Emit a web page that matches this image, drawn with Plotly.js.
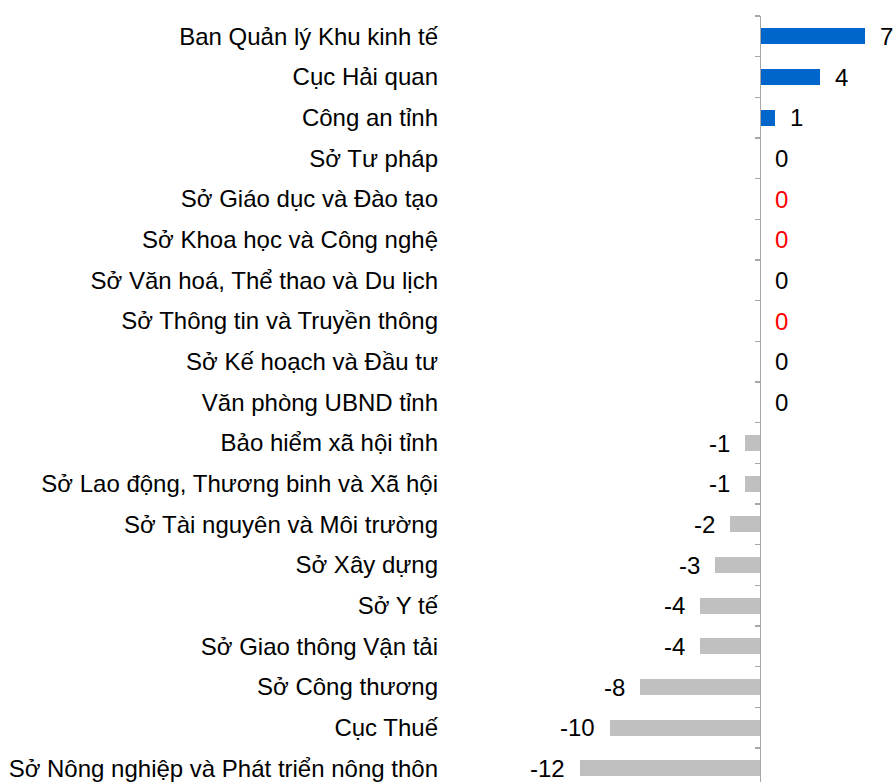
<!DOCTYPE html>
<html>
<head>
<meta charset="utf-8">
<script src="https://cdn.plot.ly/plotly-3.0.1.min.js"></script>
<style>html,body{margin:0;padding:0;background:#fff;}#chart{width:893px;height:782px;}</style>
</head>
<body>
<div id="chart"></div>
<script>
const categories = [
  "Ban Quản lý Khu kinh tế",
  "Cục Hải quan",
  "Công an tỉnh",
  "Sở Tư pháp",
  "Sở Giáo dục và Đào tạo",
  "Sở Khoa học và Công nghệ",
  "Sở Văn hoá, Thể thao và Du lịch",
  "Sở Thông tin và Truyền thông",
  "Sở Kế hoạch và Đầu tư",
  "Văn phòng UBND tỉnh",
  "Bảo hiểm xã hội tỉnh",
  "Sở Lao động, Thương binh và Xã hội",
  "Sở Tài nguyên và Môi trường",
  "Sở Xây dựng",
  "Sở Y tế",
  "Sở Giao thông Vận tải",
  "Sở Công thương",
  "Cục Thuế",
  "Sở Nông nghiệp và Phát triển nông thôn"
];
const values = [7, 4, 1, 0, 0, 0, 0, 0, 0, 0, -1, -1, -2, -3, -4, -4, -8, -10, -12];
const redZeroLabels = ["Sở Giáo dục và Đào tạo", "Sở Khoa học và Công nghệ", "Sở Thông tin và Truyền thông"];

const FONT = "Liberation Sans, Arial, sans-serif";
const xRange = [-21, 8.867];
const yRange = [18.335, -0.5];

const barColors = values.map(v => v > 0 ? "#0066CC" : "#C0C0C0");

const annotations = categories.map((c, i) => {
  const v = values[i];
  const neg = v < 0;
  return {
    x: v, y: c, xref: "x", yref: "y",
    text: String(v),
    showarrow: false,
    xanchor: neg ? "right" : "left",
    xshift: neg ? -13 : 13,
    font: {family: FONT, size: 24, color: redZeroLabels.includes(c) ? "#FF0000" : "#000000"}
  };
});

const boundaries = [];
for (let k = 0; k <= categories.length; k++) boundaries.push(k - 0.5);

const data = [
  {
    type: "bar", orientation: "h",
    x: values, y: categories,
    marker: {color: barColors},
    width: 0.39,
    hoverinfo: "none"
  },
  {
    type: "scatter", mode: "markers", x: [], y: [], yaxis: "y2", hoverinfo: "none", showlegend: false
  }
];

const layout = {
  width: 893, height: 782,
  margin: {l: 445, r: 0, t: 16, b: 0, pad: 0},
  paper_bgcolor: "#ffffff", plot_bgcolor: "#ffffff",
  showlegend: false,
  bargap: 0,
  xaxis: {
    range: xRange, showgrid: false, zeroline: false, showline: false,
    showticklabels: false, ticks: "", fixedrange: true
  },
  yaxis: {
    type: "category", range: yRange,
    showgrid: false, zeroline: false, showline: false, ticks: "",
    tickfont: {family: FONT, size: 24, color: "#000000"},
    ticklabelstandoff: 6,
    fixedrange: true
  },
  yaxis2: {
    overlaying: "y", anchor: "free",
    position: (0 - xRange[0]) / (xRange[1] - xRange[0]),
    range: yRange, showgrid: false, zeroline: false,
    showline: true, linecolor: "#A6A6A6", linewidth: 1.5,
    ticks: "outside", ticklen: 5, tickwidth: 1.5, tickcolor: "#A6A6A6",
    tickmode: "array", tickvals: boundaries, showticklabels: false,
    fixedrange: true
  },
  annotations: annotations
};

Plotly.newPlot("chart", data, layout, {displayModeBar: false, staticPlot: true});
</script>
</body>
</html>
